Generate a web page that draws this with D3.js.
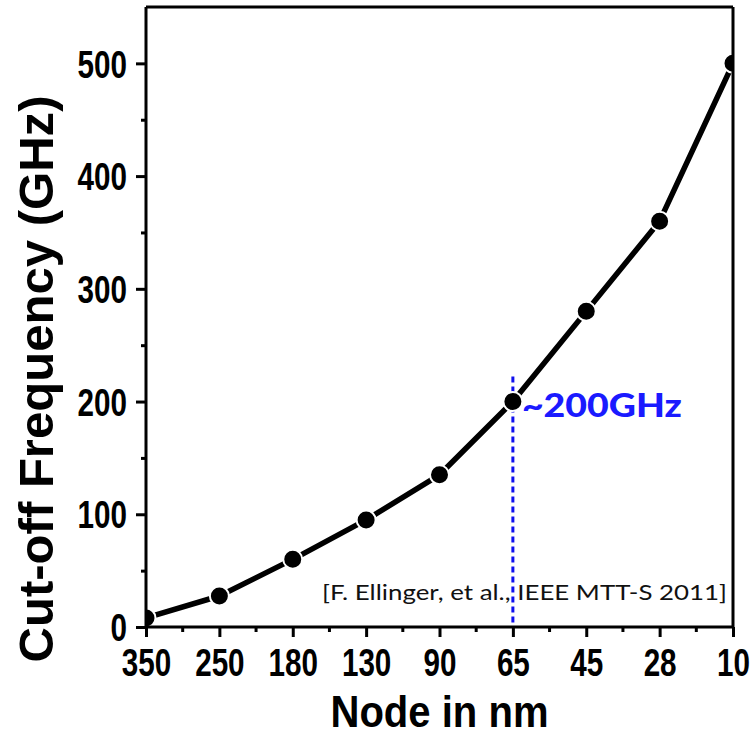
<!DOCTYPE html>
<html>
<head>
<meta charset="utf-8">
<script src="https://cdn.jsdelivr.net/npm/d3@7"></script>
<style>
  html, body { margin: 0; padding: 0; background: #fff; }
  svg { display: block; }
  .narrow { font-family: "Liberation Sans Narrow", "Arial Narrow", "Liberation Sans", Arial, sans-serif; font-weight: bold; }
</style>
</head>
<body>
<svg id="chart" width="756" height="736"></svg>
<script>
// Technology node (nm) on the x axis, shrinking to the right
const nodes = ["350", "250", "180", "130", "90", "65", "45", "28", "10"];
// Cut-off frequency in GHz for each node
const fT = [8, 27.5, 60, 95, 135, 200, 280, 360, 500];
// Y axis labelled and minor ticks
const yMajorTicks = [0, 100, 200, 300, 400, 500];
const yMinorTicks = [50, 150, 250, 350, 450];
// Highlighted node
const markNode = "65";
const markValue = 200;
const markLabel = "~200GHz";
const citation = "[F. Ellinger, et al., IEEE MTT-S 2011]";

const svg = d3.select("#chart");
const margin = { left: 146, top: 7, right: 23, bottom: 109 };
const W = 756 - margin.left - margin.right;
const H = 736 - margin.top - margin.bottom;

const x = d3.scalePoint().domain(nodes).range([0, W]);
const y = d3.scaleLinear().domain([0, 550]).range([H, 0]);

const g = svg.append("g").attr("transform", `translate(${margin.left},${margin.top})`);

svg.append("defs").append("clipPath").attr("id", "plotClip")
  .append("rect").attr("x", 0).attr("y", 0).attr("width", W).attr("height", H);

// Squeeze bold sans text into a condensed look
function condense(sel, factor) {
  sel.each(function () {
    const len = this.getComputedTextLength();
    d3.select(this).attr("textLength", len * factor).attr("lengthAdjust", "spacingAndGlyphs");
  });
}

// Citation text inside the plot
g.append("text")
  .attr("x", W - 6).attr("y", 600 - margin.top)
  .attr("text-anchor", "end")
  .attr("textLength", 405).attr("lengthAdjust", "spacingAndGlyphs")
  .style("font-family", "Lato, 'Open Sans', sans-serif")
  .style("font-size", "22px")
  .attr("fill", "#111")
  .text(citation);

// Dashed blue guide at the highlighted node
g.append("line")
  .attr("x1", x(markNode)).attr("x2", x(markNode))
  .attr("y1", y(markValue) - 25).attr("y2", H)
  .attr("stroke", "#1010ee").attr("stroke-width", 3)
  .attr("stroke-dasharray", "6,4");

const plot = g.append("g").attr("clip-path", "url(#plotClip)");
const pts = nodes.map((n, i) => [x(n), y(fT[i])]);

plot.append("path")
  .attr("d", d3.line()(pts))
  .attr("fill", "none").attr("stroke", "#000").attr("stroke-width", 5.5)
  .attr("stroke-linejoin", "round");

plot.selectAll("circle").data(pts).join("circle")
  .attr("cx", d => d[0]).attr("cy", d => d[1]).attr("r", 9.5)
  .attr("fill", "#000").attr("stroke", "#fff").attr("stroke-width", 2);

// Highlight label
g.append("text")
  .attr("x", x(markNode) + 9).attr("y", y(markValue) + 15)
  .attr("textLength", 160).attr("lengthAdjust", "spacingAndGlyphs")
  .style("font-family", "Lato, 'Open Sans', sans-serif")
  .style("font-weight", "900").style("font-size", "33px")
  .attr("fill", "#1a1aff")
  .text(markLabel);

// Frame: top and right
g.append("line").attr("x1", 0).attr("x2", W).attr("y1", 0).attr("y2", 0)
  .attr("stroke", "#000").attr("stroke-width", 3);
g.append("line").attr("x1", W).attr("x2", W).attr("y1", 0).attr("y2", H)
  .attr("stroke", "#000").attr("stroke-width", 3);

// Y axis
const yAxis = g.append("g").call(d3.axisLeft(y).tickValues(yMajorTicks).tickSize(10).tickPadding(9).tickFormat(d3.format("d")));
g.append("g").call(d3.axisLeft(y).tickValues(yMinorTicks).tickSize(5).tickFormat(""))
  .call(a => a.select(".domain").remove());

// X axis
const xAxis = g.append("g").attr("transform", `translate(0,${H})`)
  .call(d3.axisBottom(x).tickSize(10).tickPadding(12));
const mids = nodes.slice(1).map((n, i) => (x(nodes[i]) + x(n)) / 2);
const xMinor = g.append("g").attr("transform", `translate(0,${H})`);
xMinor.selectAll("line").data(mids).join("line")
  .attr("x1", d => d).attr("x2", d => d).attr("y1", 0).attr("y2", 5)
  .attr("stroke", "#000").attr("stroke-width", 3);

g.selectAll(".domain").attr("stroke", "#000").attr("stroke-width", 3);
yAxis.select(".domain").attr("d", `M0,${H}V0`);
xAxis.select(".domain").attr("d", `M0,0H${W}`);
g.selectAll(".tick line").attr("stroke", "#000").attr("stroke-width", 3);
g.selectAll(".tick text").attr("class", "narrow").style("font-size", "38px").attr("fill", "#000");
yAxis.selectAll(".tick text").attr("dy", "0.36em");
xAxis.selectAll(".tick text").attr("dy", "0.71em");
condense(g.selectAll(".tick text"), 0.78);

// Axis titles
svg.append("text").attr("class", "narrow")
  .attr("x", margin.left + W / 2).attr("y", 727)
  .attr("text-anchor", "middle")
  .attr("textLength", 218).attr("lengthAdjust", "spacingAndGlyphs")
  .style("font-size", "45px").text("Node in nm");

svg.append("text").attr("class", "narrow")
  .attr("transform", "translate(53,379) rotate(-90)")
  .attr("text-anchor", "middle")
  .attr("textLength", 567).attr("lengthAdjust", "spacingAndGlyphs")
  .style("font-size", "48px").text("Cut-off Frequency (GHz)");
</script>
</body>
</html>
